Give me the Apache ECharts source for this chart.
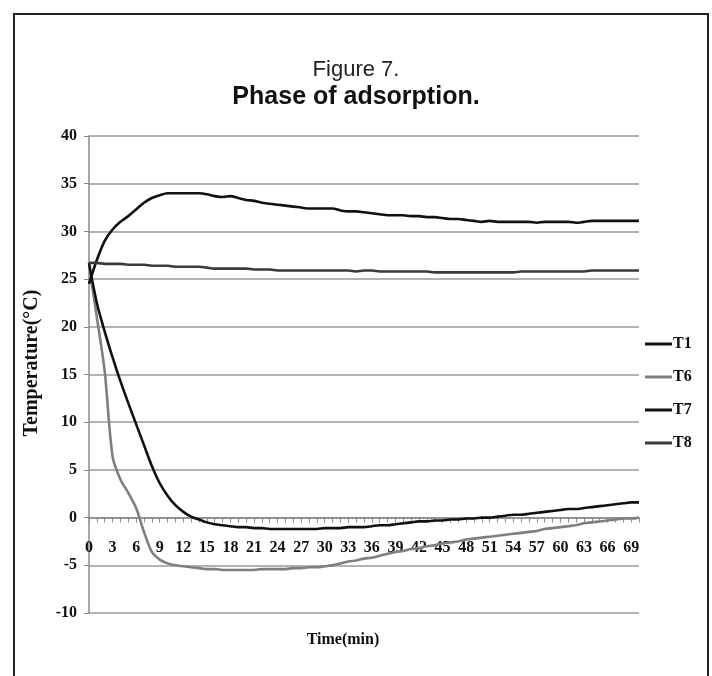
<!DOCTYPE html>
<html>
<head>
<meta charset="utf-8">
<script src="https://cdn.jsdelivr.net/npm/echarts@6/dist/echarts.min.js"></script>
<style>
html,body{margin:0;padding:0;background:#fff;}
#c{width:712px;height:676px;}
</style>
</head>
<body>
<div id="c"></div>
<script>
var minutes = [];
for (var i = 0; i <= 70; i++) minutes.push(String(i));

var T1 = [24.5,27.0,29.0,30.2,31.0,31.6,32.3,33.0,33.5,33.8,
          34.0,34.0,34.0,34.0,34.0,33.9,33.7,33.6,33.7,33.5,
          33.3,33.2,33.0,32.9,32.8,32.7,32.6,32.5,32.4,32.4,
          32.4,32.4,32.2,32.1,32.1,32.0,31.9,31.8,31.7,31.7,
          31.7,31.6,31.6,31.5,31.5,31.4,31.3,31.3,31.2,31.1,
          31.0,31.1,31.0,31.0,31.0,31.0,31.0,30.9,31.0,31.0,
          31.0,31.0,30.9,31.0,31.1,31.1,31.1,31.1,31.1,31.1,31.1];

var T6 = [26.5,21.0,15.3,6.4,4.0,2.6,1.0,-1.5,-3.6,-4.4,
          -4.8,-5.0,-5.1,-5.2,-5.3,-5.4,-5.4,-5.5,-5.5,-5.5,
          -5.5,-5.5,-5.4,-5.4,-5.4,-5.4,-5.3,-5.3,-5.2,-5.2,
          -5.1,-5.0,-4.8,-4.6,-4.5,-4.3,-4.2,-4.0,-3.8,-3.6,
          -3.5,-3.3,-3.2,-3.0,-2.9,-2.7,-2.6,-2.5,-2.3,-2.2,
          -2.1,-2.0,-1.9,-1.8,-1.7,-1.6,-1.5,-1.4,-1.2,-1.1,
          -1.0,-0.9,-0.8,-0.6,-0.5,-0.4,-0.3,-0.2,-0.1,-0.1,0.0];

var T7 = [26.7,22.5,19.5,16.8,14.3,12.0,9.8,7.6,5.4,3.6,
          2.3,1.3,0.6,0.1,-0.2,-0.5,-0.7,-0.8,-0.9,-1.0,
          -1.0,-1.1,-1.1,-1.2,-1.2,-1.2,-1.2,-1.2,-1.2,-1.2,
          -1.1,-1.1,-1.1,-1.0,-1.0,-1.0,-0.9,-0.8,-0.8,-0.7,
          -0.6,-0.5,-0.4,-0.4,-0.3,-0.3,-0.2,-0.2,-0.1,-0.1,
          0.0,0.0,0.1,0.2,0.3,0.3,0.4,0.5,0.6,0.7,
          0.8,0.9,0.9,1.0,1.1,1.2,1.3,1.4,1.5,1.6,1.6];

var T8 = [26.7,26.7,26.6,26.6,26.6,26.5,26.5,26.5,26.4,26.4,
          26.4,26.3,26.3,26.3,26.3,26.2,26.1,26.1,26.1,26.1,
          26.1,26.0,26.0,26.0,25.9,25.9,25.9,25.9,25.9,25.9,
          25.9,25.9,25.9,25.9,25.8,25.9,25.9,25.8,25.8,25.8,
          25.8,25.8,25.8,25.8,25.7,25.7,25.7,25.7,25.7,25.7,
          25.7,25.7,25.7,25.7,25.7,25.8,25.8,25.8,25.8,25.8,
          25.8,25.8,25.8,25.8,25.9,25.9,25.9,25.9,25.9,25.9,25.9];

var seriesNames = ['T1','T6','T7','T8'];
var seriesColors = ['#111111','#7f7f7f','#111111','#3a3a3a'];
var seriesData = [T1, T6, T7, T8];

var serif = 'Liberation Serif';
var chart = echarts.init(document.getElementById('c'));
chart.setOption({
  animation: false,
  backgroundColor: '#ffffff',
  title: {
    text: 'Figure 7.',
    subtext: 'Phase of adsorption.',
    left: 'center',
    top: 54,
    itemGap: 4,
    textStyle: {fontFamily: 'Liberation Sans', fontSize: 22, fontWeight: 'normal', color: '#222'},
    subtextStyle: {fontFamily: 'Liberation Sans', fontSize: 25, fontWeight: 'bold', color: '#111'}
  },
  legend: {
    orient: 'vertical',
    left: 640,
    top: 331,
    icon: 'rect',
    itemWidth: 27,
    itemHeight: 3,
    itemGap: 17,
    data: seriesNames,
    textStyle: {fontFamily: serif, fontSize: 16, fontWeight: 'bold', color: '#111', padding: [0,0,0,-4]}
  },
  grid: {left: 89, right: 73, top: 136, bottom: 63, containLabel: false},
  xAxis: {
    type: 'category',
    data: minutes,
    boundaryGap: false,
    axisLine: {onZero: true, lineStyle: {color: '#8a8a8a', width: 1.5}},
    axisTick: {show: true, interval: 0, length: 5, lineStyle: {color: '#8a8a8a'}},
    axisLabel: {interval: 2, margin: -73, fontFamily: serif, fontSize: 16, fontWeight: 'bold', color: '#111'},
    splitLine: {show: false}
  },
  yAxis: {
    type: 'value',
    min: -10, max: 40, interval: 5,
    axisLine: {show: true, lineStyle: {color: '#8a8a8a', width: 1.5}},
    axisTick: {show: true, length: 5, lineStyle: {color: '#8a8a8a'}},
    axisLabel: {margin: 12, fontFamily: serif, fontSize: 16, fontWeight: 'bold', color: '#111'},
    splitLine: {show: true, lineStyle: {color: '#9a9a9a', width: 1.5}}
  },
  graphic: [
    {type: 'rect', shape: {x: 14, y: 14, width: 694, height: 700}, style: {fill: null, stroke: '#222', lineWidth: 2}, silent: true},
    {type: 'text', x: 343, y: 640, style: {text: 'Time(min)', font: 'bold 16px "Liberation Serif"', fill: '#111', textAlign: 'center', textVerticalAlign: 'middle'}},
    {type: 'text', x: 32, y: 363, rotation: Math.PI / 2, style: {text: 'Temperature(°C)', font: 'bold 20px "Liberation Serif"', fill: '#111', textAlign: 'center', textVerticalAlign: 'middle'}}
  ],
  series: seriesNames.map(function (n, k) {
    return {
      name: n,
      type: 'line',
      data: seriesData[k],
      smooth: 0.3,
      symbol: 'none',
      lineStyle: {color: seriesColors[k], width: 2.6},
      itemStyle: {color: seriesColors[k]},
      z: k === 1 ? 1 : 2
    };
  })
});
</script>
</body>
</html>
